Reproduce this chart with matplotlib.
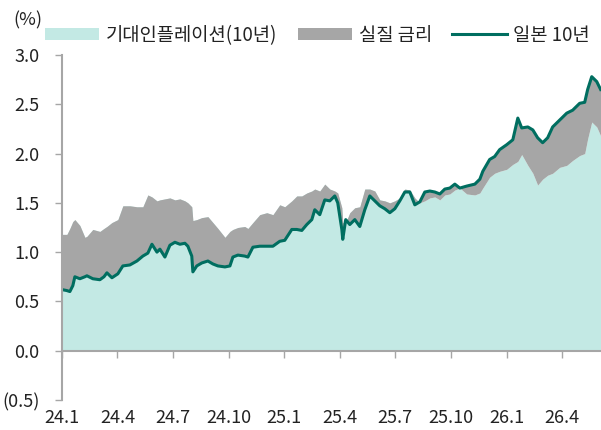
import matplotlib
matplotlib.use("Agg")
import matplotlib.pyplot as plt
from matplotlib.patches import Patch
from matplotlib.lines import Line2D

plt.rcParams['font.family'] = ['Noto Sans CJK KR', 'DejaVu Sans']

# 시점 (2024년 1월 = 0, 단위: 월)
months = [0.00, 0.27, 0.43, 0.59, 0.70, 0.97, 1.24, 1.35, 1.67, 2.05,
          2.27, 2.43, 2.70, 3.02, 3.29, 3.67, 4.05, 4.37, 4.64, 4.86,
          5.13, 5.29, 5.56, 5.83, 6.10, 6.37, 6.64, 6.80, 7.01, 7.07,
          7.28, 7.55, 7.88, 8.15, 8.42, 8.80, 9.07, 9.23, 9.50, 9.87,
          10.04, 10.31, 10.68, 11.06, 11.39, 11.76, 12.03, 12.41, 12.68, 12.95,
          13.22, 13.49, 13.65, 13.92, 14.19, 14.46, 14.73, 14.89, 15.11, 15.16,
          15.32, 15.54, 15.81, 16.08, 16.35, 16.62, 16.89, 17.16, 17.43, 17.70,
          17.97, 18.24, 18.51, 18.78, 19.05, 19.32, 19.59, 19.86, 20.13, 20.40,
          20.67, 20.94, 21.21, 21.48, 21.85, 22.29, 22.56, 22.72, 23.09, 23.36,
          23.63, 24.01, 24.34, 24.61, 24.82, 25.15, 25.42, 25.68, 25.95, 26.22,
          26.49, 26.87, 27.25, 27.57, 27.95, 28.22, 28.38, 28.60, 28.87, 29.08]

# 일본 10년 국채금리 (%)
jgb10 = [0.62, 0.61, 0.60, 0.66, 0.75, 0.73, 0.75, 0.76, 0.73, 0.72,
         0.75, 0.79, 0.74, 0.78, 0.86, 0.87, 0.91, 0.96, 0.99, 1.08,
         1.00, 1.03, 0.95, 1.07, 1.10, 1.08, 1.09, 1.06, 0.96, 0.80,
         0.86, 0.89, 0.91, 0.88, 0.86, 0.85, 0.86, 0.95, 0.97, 0.96,
         0.95, 1.05, 1.06, 1.06, 1.06, 1.11, 1.12, 1.23, 1.23, 1.22,
         1.28, 1.33, 1.43, 1.38, 1.53, 1.52, 1.57, 1.50, 1.23, 1.13,
         1.33, 1.28, 1.33, 1.26, 1.43, 1.57, 1.52, 1.47, 1.44, 1.40,
         1.44, 1.52, 1.61, 1.61, 1.48, 1.51, 1.61, 1.62, 1.61, 1.59,
         1.64, 1.65, 1.69, 1.65, 1.67, 1.69, 1.74, 1.82, 1.94, 1.97,
         2.04, 2.09, 2.14, 2.36, 2.26, 2.27, 2.24, 2.16, 2.11, 2.16,
         2.27, 2.34, 2.41, 2.44, 2.51, 2.52, 2.65, 2.78, 2.73, 2.65]

# 기대인플레이션 (10년 BEI, %)
bei10 = [1.18, 1.18, 1.24, 1.31, 1.33, 1.27, 1.15, 1.16, 1.23, 1.21,
         1.24, 1.26, 1.30, 1.33, 1.47, 1.47, 1.46, 1.46, 1.58, 1.56,
         1.52, 1.53, 1.54, 1.55, 1.53, 1.54, 1.52, 1.50, 1.46, 1.32,
         1.33, 1.35, 1.36, 1.30, 1.24, 1.15, 1.21, 1.23, 1.25, 1.26,
         1.24, 1.30, 1.38, 1.40, 1.38, 1.48, 1.46, 1.52, 1.57, 1.57,
         1.60, 1.62, 1.64, 1.62, 1.69, 1.64, 1.62, 1.60, 1.45, 1.30,
         1.30, 1.40, 1.45, 1.46, 1.64, 1.64, 1.62, 1.53, 1.52, 1.50,
         1.52, 1.55, 1.64, 1.63, 1.55, 1.50, 1.52, 1.55, 1.56, 1.53,
         1.58, 1.59, 1.63, 1.65, 1.59, 1.58, 1.60, 1.65, 1.76, 1.80,
         1.82, 1.84, 1.89, 1.92, 1.99, 1.88, 1.80, 1.68, 1.74, 1.78,
         1.80, 1.86, 1.88, 1.93, 1.98, 2.00, 2.15, 2.32, 2.27, 2.18]

tick_pos = [0, 3, 6, 9, 12, 15, 18, 21, 24, 27]
tick_labels = ["24.1", "24.4", "24.7", "24.10", "25.1", "25.4", "25.7", "25.10", "26.1", "26.4"]
y_ticks = [-0.5, 0.0, 0.5, 1.0, 1.5, 2.0, 2.5, 3.0]
y_labels = ["(0.5)", "0.0", "0.5", "1.0", "1.5", "2.0", "2.5", "3.0"]

teal_fill = "#c3e9e4"
gray_fill = "#a6a6a6"
line_col = "#006e60"
axis_col = "#a6a6a6"
text_col = "#222222"

fig = plt.figure(figsize=(6.01, 4.30), dpi=100)
ax = fig.add_axes([0.103, 0.0698, 0.897, 0.8023])

ax.fill_between(months, 0, bei10, color=teal_fill, linewidth=0)
ax.fill_between(months, bei10, jgb10, color=gray_fill, linewidth=0)
ax.plot(months, jgb10, color=line_col, linewidth=2.2)

ax.set_xlim(0, 29.1)
ax.set_ylim(-0.5, 3.0)

for s in ["top", "right"]:
    ax.spines[s].set_visible(False)
ax.spines["bottom"].set_position(("data", 0))
for s in ["bottom", "left"]:
    ax.spines[s].set_color(axis_col)
    ax.spines[s].set_linewidth(1.5)

ax.set_yticks(y_ticks)
ax.set_yticklabels(y_labels)
ax.set_xticks(tick_pos)
ax.set_xticklabels(tick_labels)
ax.tick_params(axis="y", length=5, width=1, color=axis_col, labelsize=13, labelcolor=text_col, pad=11)
ax.tick_params(axis="x", length=5, width=1, color=axis_col, labelsize=13, labelcolor=text_col, pad=37)

fig.text(0.022, 0.952, "(%)", fontsize=13, color=text_col, ha="left", va="center")

handles = [Patch(facecolor=teal_fill, edgecolor="none"),
           Patch(facecolor=gray_fill, edgecolor="none"),
           Line2D([0], [0], color=line_col, linewidth=2.2)]
labels = ["기대인플레이션(10년)", "실질 금리", "일본 10년"]
fig.legend(handles, labels, loc="center", bbox_to_anchor=(0.528, 0.918), ncol=3,
           frameon=False, fontsize=13.5, handlelength=2.9, handleheight=0.6,
           columnspacing=1.1, handletextpad=0.35, labelcolor=text_col)

fig.savefig("out.png", dpi=100)
